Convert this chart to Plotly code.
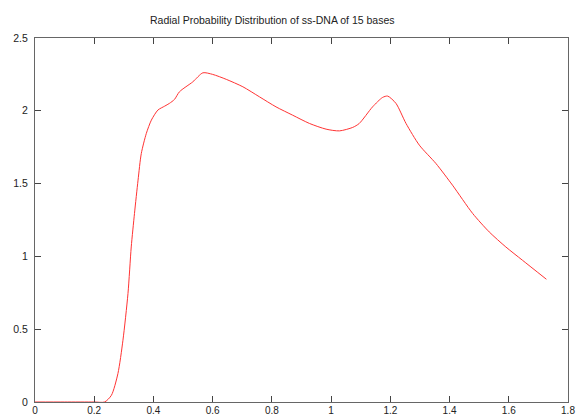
import plotly.graph_objects as go

r_values = [0.0, 0.1, 0.2, 0.235, 0.258, 0.280, 0.297, 0.314, 0.325, 0.336, 0.348, 0.359,
            0.376, 0.393, 0.415, 0.438, 0.454, 0.471, 0.488, 0.533, 0.567, 0.600, 0.646,
            0.702, 0.758, 0.814, 0.870, 0.927, 0.983, 1.028, 1.073, 1.095, 1.140, 1.174,
            1.191, 1.219, 1.253, 1.298, 1.354, 1.410, 1.478, 1.534, 1.590, 1.646, 1.727]
p_values = [0.0, 0.0, 0.0, 0.0, 0.046, 0.195, 0.424, 0.745, 1.065, 1.295, 1.524, 1.707,
            1.845, 1.936, 2.005, 2.032, 2.051, 2.078, 2.131, 2.199, 2.261, 2.250, 2.216,
            2.165, 2.096, 2.027, 1.970, 1.913, 1.874, 1.862, 1.886, 1.913, 2.027, 2.092,
            2.101, 2.051, 1.913, 1.764, 1.638, 1.489, 1.295, 1.168, 1.065, 0.974, 0.843]

x_ticks = [0, 0.2, 0.4, 0.6, 0.8, 1, 1.2, 1.4, 1.6, 1.8]
x_tick_labels = ["0", "0.2", "0.4", "0.6", "0.8", "1", "1.2", "1.4", "1.6", "1.8"]
y_ticks = [0, 0.5, 1, 1.5, 2, 2.5]
y_tick_labels = ["0", "0.5", "1", "1.5", "2", "2.5"]

title_text = "Radial Probability Distribution of ss-DNA of 15 bases"

W, H = 580, 417
ML, MR, MT, MB = 35, 12, 38, 15

fig = go.Figure()
fig.add_trace(go.Scatter(
    x=r_values, y=p_values, mode="lines",
    line=dict(color="#ff3333", width=1, shape="spline", smoothing=0.7),
    showlegend=False, hoverinfo="skip",
))

axis_common = dict(
    showgrid=False, zeroline=False, showline=True, linecolor="#666666", linewidth=1,
    mirror="allticks", ticks="inside", ticklen=6, tickcolor="#444444", tickwidth=1,
    automargin=False,
    tickfont=dict(family="Liberation Sans, Arial, sans-serif", size=10.5, color="#222222"),
)

fig.update_layout(
    width=W, height=H,
    margin=dict(l=ML, r=MR, t=MT, b=MB, autoexpand=False),
    paper_bgcolor="white", plot_bgcolor="white",
    xaxis=dict(range=[0, 1.8], tickvals=x_ticks, ticktext=x_tick_labels,
               ticklabelstandoff=-1, **axis_common),
    yaxis=dict(range=[0, 2.5], tickvals=y_ticks, ticktext=y_tick_labels,
               ticklabelstandoff=4, **axis_common),
    annotations=[dict(
        text=title_text,
        x=(272 - ML) / (W - ML - MR), y=(H - MB - 20) / (H - MT - MB),
        xref="paper", yref="paper", xanchor="center", yanchor="middle", showarrow=False,
        font=dict(family="Liberation Sans, Arial, sans-serif", size=10.5, color="#222222"),
    )],
)
fig.update_xaxes(tickfont_size=10)

fig.write_html("out.html", config={"displayModeBar": False},
               post_script="document.body.style.margin='0';document.body.style.overflow='hidden';")
